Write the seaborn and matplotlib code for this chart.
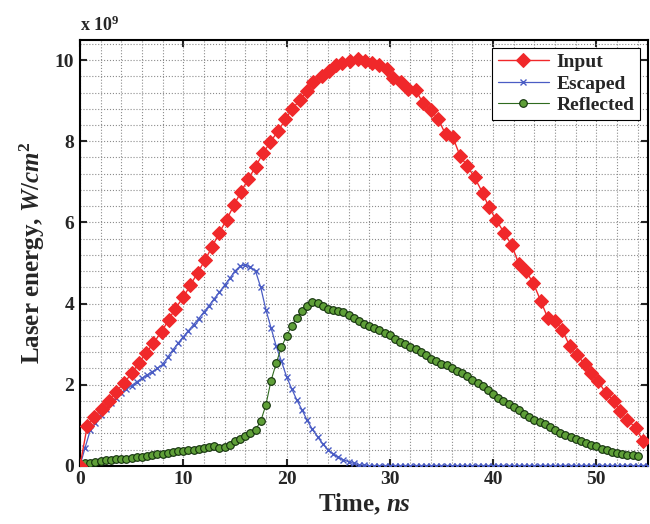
import numpy as np
import matplotlib
matplotlib.use("Agg")
import matplotlib.pyplot as plt
import seaborn as sns
from matplotlib.ticker import MultipleLocator

# values in units of 1e9 W/cm^2, time in ns
input_t = [0, 0.7, 1.4, 2.1, 2.8, 3.5, 4.3, 5.0, 5.7, 6.4,
           7.1, 7.9, 8.6, 9.2, 10.0, 10.7, 11.4, 12.1, 12.8, 13.5,
           14.2, 14.9, 15.6, 16.3, 17.0, 17.7, 18.4, 19.2, 19.9, 20.5,
           21.3, 22.0, 22.6, 23.4, 24.1, 24.8, 25.4, 26.1, 26.9, 27.6,
           28.3, 29.0, 29.7, 30.3, 31.1, 31.8, 32.5, 33.2, 34.0, 34.7,
           35.4, 36.1, 36.8, 37.5, 38.2, 39.0, 39.6, 40.3, 41.1, 41.8,
           42.5, 43.2, 43.9, 44.6, 45.3, 46.0, 46.7, 47.4, 48.1, 48.9,
           49.5, 50.2, 50.9, 51.7, 52.3, 53.0, 53.8, 54.5]
input_e = [0, 0.97, 1.21, 1.40, 1.61, 1.83, 2.05, 2.28, 2.53, 2.78,
           3.02, 3.31, 3.60, 3.87, 4.15, 4.46, 4.76, 5.07, 5.40, 5.75,
           6.07, 6.42, 6.76, 7.07, 7.37, 7.70, 7.97, 8.26, 8.54, 8.79,
           9.01, 9.25, 9.45, 9.62, 9.74, 9.88, 9.93, 9.98, 10.02, 9.98,
           9.93, 9.88, 9.78, 9.57, 9.45, 9.30, 9.26, 8.95, 8.76, 8.54,
           8.17, 8.10, 7.64, 7.39, 7.11, 6.72, 6.37, 6.06, 5.73, 5.44,
           4.97, 4.79, 4.50, 4.07, 3.64, 3.58, 3.35, 2.96, 2.73, 2.51,
           2.28, 2.08, 1.79, 1.60, 1.34, 1.13, 0.94, 0.62]

escaped_t = np.arange(0, 55.01, 0.5)
escaped_e = [0, 0.45, 0.88, 1.05, 1.25, 1.40, 1.55, 1.68, 1.80, 1.90,
             1.98, 2.07, 2.16, 2.24, 2.32, 2.40, 2.50, 2.68, 2.86, 3.02,
             3.18, 3.33, 3.48, 3.63, 3.79, 3.95, 4.12, 4.28, 4.45, 4.62,
             4.80, 4.92, 4.95, 4.90, 4.80, 4.40, 3.85, 3.40, 2.95, 2.58,
             2.20, 1.90, 1.62, 1.38, 1.12, 0.90, 0.72, 0.54, 0.40, 0.30,
             0.21, 0.15, 0.10, 0.06, 0.03, 0.01] + [0.0] * 55

reflected_t = np.arange(0, 54.01, 0.5)
reflected_e = [0.02, 0.06, 0.08, 0.10, 0.12, 0.14, 0.15, 0.16, 0.17, 0.18,
               0.20, 0.21, 0.23, 0.25, 0.27, 0.29, 0.30, 0.32, 0.34, 0.36,
               0.37, 0.38, 0.40, 0.41, 0.43, 0.47, 0.48, 0.44, 0.47, 0.52,
               0.60, 0.66, 0.74, 0.82, 0.89, 1.10, 1.50, 2.10, 2.53, 2.92,
               3.20, 3.45, 3.65, 3.82, 3.95, 4.05, 4.02, 3.95, 3.87, 3.85,
               3.82, 3.78, 3.72, 3.65, 3.58, 3.50, 3.45, 3.40, 3.36, 3.28,
               3.22, 3.12, 3.05, 3.00, 2.94, 2.87, 2.80, 2.72, 2.64, 2.58,
               2.52, 2.48, 2.42, 2.34, 2.28, 2.22, 2.12, 2.05, 1.96, 1.87,
               1.76, 1.68, 1.60, 1.52, 1.45, 1.37, 1.28, 1.21, 1.14, 1.08,
               1.02, 0.96, 0.88, 0.82, 0.76, 0.72, 0.66, 0.61, 0.56, 0.51,
               0.48, 0.42, 0.38, 0.35, 0.31, 0.29, 0.27, 0.26, 0.25]

sns.set_style("ticks")
plt.rcParams["font.family"] = ["Liberation Serif", "DejaVu Serif"]
plt.rcParams["font.weight"] = "bold"
plt.rcParams["mathtext.fontset"] = "custom"
plt.rcParams["mathtext.it"] = "Liberation Serif:italic:bold"
plt.rcParams["mathtext.rm"] = "Liberation Serif:bold"

fig = plt.figure(figsize=(6.5, 5.24), dpi=100)
ax = fig.add_axes([0.123, 0.111, 0.874, 0.813])

sns.lineplot(x=escaped_t, y=escaped_e, ax=ax, color="#4a5cc4", lw=0.9,
             marker="x", markersize=5, markeredgewidth=1.0,
             markeredgecolor="#4a5cc4", estimator=None,
             label="Escaped", zorder=3)
sns.lineplot(x=reflected_t, y=reflected_e, ax=ax, color="#2f6b1f", lw=0.8,
             marker="o", markersize=5.5, markerfacecolor="#5f9f38",
             markeredgecolor="#12300c", markeredgewidth=0.8, estimator=None,
             label="Reflected", zorder=4)
sns.lineplot(x=input_t, y=input_e, ax=ax, color="#f0282a", lw=1.0,
             marker="D", markersize=7.5, markeredgecolor="#f0282a",
             estimator=None, label="Input", zorder=5)

ax.set_xlim(0, 55)
ax.set_ylim(0, 10.5)
ax.xaxis.set_major_locator(MultipleLocator(10))
ax.yaxis.set_major_locator(MultipleLocator(2))
ax.xaxis.set_minor_locator(MultipleLocator(2))
ax.yaxis.set_minor_locator(MultipleLocator(0.4))
ax.grid(which="both", ls=":", color="#8c8c8c", lw=0.8)
ax.tick_params(which="major", direction="in", length=5, width=1.5,
               top=True, right=True, labelsize=14, pad=4)
ax.tick_params(which="minor", length=0, top=True, right=True)
for s in ax.spines.values():
    s.set_linewidth(1.5)
    s.set_color("black")

ax.set_xlabel("Time, $ns$", fontsize=18, fontweight="bold", labelpad=2)
ax.set_ylabel("Laser energy, $W/cm^2$", fontsize=18, fontweight="bold", labelpad=6)
ax.text(0.0, 1.012, "x 10$^9$", transform=ax.transAxes, fontsize=13,
        fontweight="bold", ha="left", va="bottom")

handles, labels = ax.get_legend_handles_labels()
order = [labels.index(n) for n in ["Input", "Escaped", "Reflected"]]
leg = ax.legend([handles[i] for i in order], [labels[i] for i in order],
                loc="upper right", fontsize=14, frameon=True, fancybox=False,
                edgecolor="black", framealpha=1, borderaxespad=0.4,
                handlelength=2.6, handletextpad=0.4, borderpad=0.3,
                labelspacing=0.2)
leg.get_frame().set_linewidth(0.8)

fig.savefig("out.png", dpi=100)
